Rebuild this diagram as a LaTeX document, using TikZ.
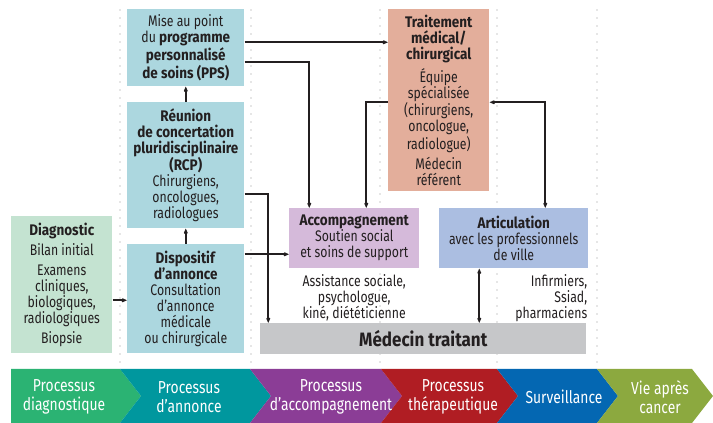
\documentclass[tikz,border=0pt]{standalone}
\usepackage{fontspec}
\setmainfont{Fira Sans}[FakeStretch=0.8, BoldFeatures={FakeStretch=0.88}]
\usetikzlibrary{arrows.meta,calc,positioning}

\definecolor{txt}{HTML}{231F20}
\definecolor{boxblue}{HTML}{ACD7DF}
\definecolor{boxgreen}{HTML}{C4E3D1}
\definecolor{boxsalmon}{HTML}{E3AE9B}
\definecolor{boxpurple}{HTML}{D5BADA}
\definecolor{boxartic}{HTML}{ABBEE1}
\definecolor{boxgrey}{HTML}{C6C7C9}
\definecolor{chgreen}{HTML}{2BB373}
\definecolor{chteal}{HTML}{00979E}
\definecolor{chpurple}{HTML}{8B3D96}
\definecolor{chred}{HTML}{B01D23}
\definecolor{chblue}{HTML}{0467B2}
\definecolor{cholive}{HTML}{8CA93F}

\tikzset{
  pointe/.tip={Kite[length=4.5pt,width=3pt]},
  etape/.style n args={3}{fill=#1, minimum width=#2*0.75pt, minimum height=#3*0.75pt,
    anchor=north west, inner sep=0pt, align=center, text=txt,
    font=\fontsize{11.5}{12}\selectfont},
  note/.style={inner sep=0pt, align=center, text=txt, font=\fontsize{11.5}{12}\selectfont},
  conn/.style={line width=1.6pt, draw=txt},
  phase/.style={inner sep=0pt, align=center, text=white, font=\fontsize{13}{14.5}\selectfont},
  pointille/.style={draw=gray!40, line width=1.2pt, line cap=round, dash pattern=on 0pt off 6pt}
}

\begin{document}
\begin{tikzpicture}[x=0.75pt,y=0.75pt,yscale=-1,xscale=1]
        \useasboundingbox (0,0) rectangle (713,423);

        %Dotted separators
        \foreach \xs in {120,251,380,497,597}
          \draw[pointille] (\xs,10) -- (\xs,362);

        %Shape: Rectangle boxes
        \node[etape={boxblue}{117}{77}] (pps) at (127,9)
          {Mise au point\\ du \textbf{programme}\\ \textbf{personnalisé}\\ \textbf{de soins (PPS)}};
        \node[etape={boxblue}{117}{126}] (rcp) at (127,102)
          {\textbf{Réunion}\\ \textbf{de concertation}\\ \textbf{pluridisciplinaire}\\ \textbf{(RCP)}\\ Chirurgiens,\\ oncologues,\\ radiologues};
        \node[etape={boxblue}{117}{109}] (annonce) at (127,244)
          {\textbf{Dispositif}\\ \textbf{d’annonce}\\ Consultation\\ d’annonce\\ médicale\\ ou chirurgicale};
        \node[etape={boxgreen}{101}{137}] (diag) at (11,216)
          {\textbf{Diagnostic}\\[3pt] Bilan initial\\[3pt] Examens\\ cliniques,\\ biologiques,\\ radiologiques\\[3pt] Biopsie};
        \node[etape={boxsalmon}{101}{182}] (traitement) at (388,9)
          {\textbf{Traitement}\\ \textbf{médical/}\\ \textbf{chirurgical}\\[3pt] Équipe\\ spécialisée\\ (chirurgiens,\\ oncologue,\\ radiologue)\\[3pt] Médecin\\ référent};
        \node[etape={boxpurple}{130}{60}] (accomp) at (289,208)
          {\textbf{Accompagnement}\\ Soutien social\\ et soins de support};
        \node[etape={boxartic}{149}{60}] (artic) at (439,208)
          {\textbf{Articulation}\\ avec les professionnels\\ de ville};
        \node[etape={boxgrey}{326}{31}, font=\fontsize{14.5}{16}\selectfont\bfseries] (medecin) at (260,323)
          {Médecin traitant};

        % Text Node
        \node[note, below=4pt of accomp] (accompnote)
          {Assistance sociale,\\ psychologue,\\ kiné, diététicienne};
        % Text Node
        \node[note, align=right, anchor=north east] (articnote) at ($(artic.south east)+(-1,6)$)
          {Infirmiers,\\ Ssiad,\\ pharmaciens};

        %Connectors
        \draw[conn,-pointe] ($(pps.east)+(0,-5.5)$) coordinate (c1) -- (c1 -| traitement.west);
        \draw[conn,-pointe] ($(pps.east)+(0,14.5)$) -| ($(accomp.north)+(-45,0)$);
        \draw[conn,-pointe] ($(traitement.west)+(0,2)$) -| ($(accomp.north)+(12,0)$);
        \draw[conn,pointe-pointe] ($(traitement.east)+(0,2)$) -| ($(artic.north)+(31.5,0)$);
        \draw[conn,-pointe] ($(rcp.east)+(0,29)$) -| ($(medecin.north)+(-155,0)$);
        \draw[conn,-pointe] ($(annonce.east)+(0,-44.5)$) coordinate (c2) -- (c2 -| accomp.west);
        \draw[conn,-pointe] ($(diag.east)+(0,15.5)$) coordinate (c3) -- (c3 -| annonce.west);
        \draw[conn,-pointe] (annonce.north) -- (rcp.south);
        \draw[conn,-pointe] (rcp.north) -- (pps.south);
        \draw[conn,pointe-pointe] ($(artic.south)+(-34.5,0)$) coordinate (c4) -- (c4 |- medecin.north);

        %Shape: Chevrons
        \fill[chgreen] (11,369) -- (120,369) -- (141,396) -- (120,423) -- (11,423) -- cycle;
        \foreach \xa/\xb/\col in {120/250/chteal, 250/381/chpurple, 381/497/chred, 497/597/chblue, 597/692/cholive}
          \fill[\col] (\xa,369) -- (\xb,369) -- (\xb+21,396) -- (\xb,423) -- (\xa,423) -- (\xa+21,396) -- cycle;

        % Text Node
        \node[phase] (phdiag) at (64,397) {Processus\\ diagnostique};
        \node[phase] (phannonce) at (189,397) {Processus\\ d’annonce};
        \node[phase] (phaccomp) at (331,397) {Processus\\ d’accompagnement};
        \node[phase] (phtherap) at (453,397) {Processus\\ thérapeutique};
        \node[phase] (phsurv) at (564,397) {Surveillance};
        \node[phase] (phvie) at (660,397) {Vie après\\ cancer};

\end{tikzpicture}
\end{document}
